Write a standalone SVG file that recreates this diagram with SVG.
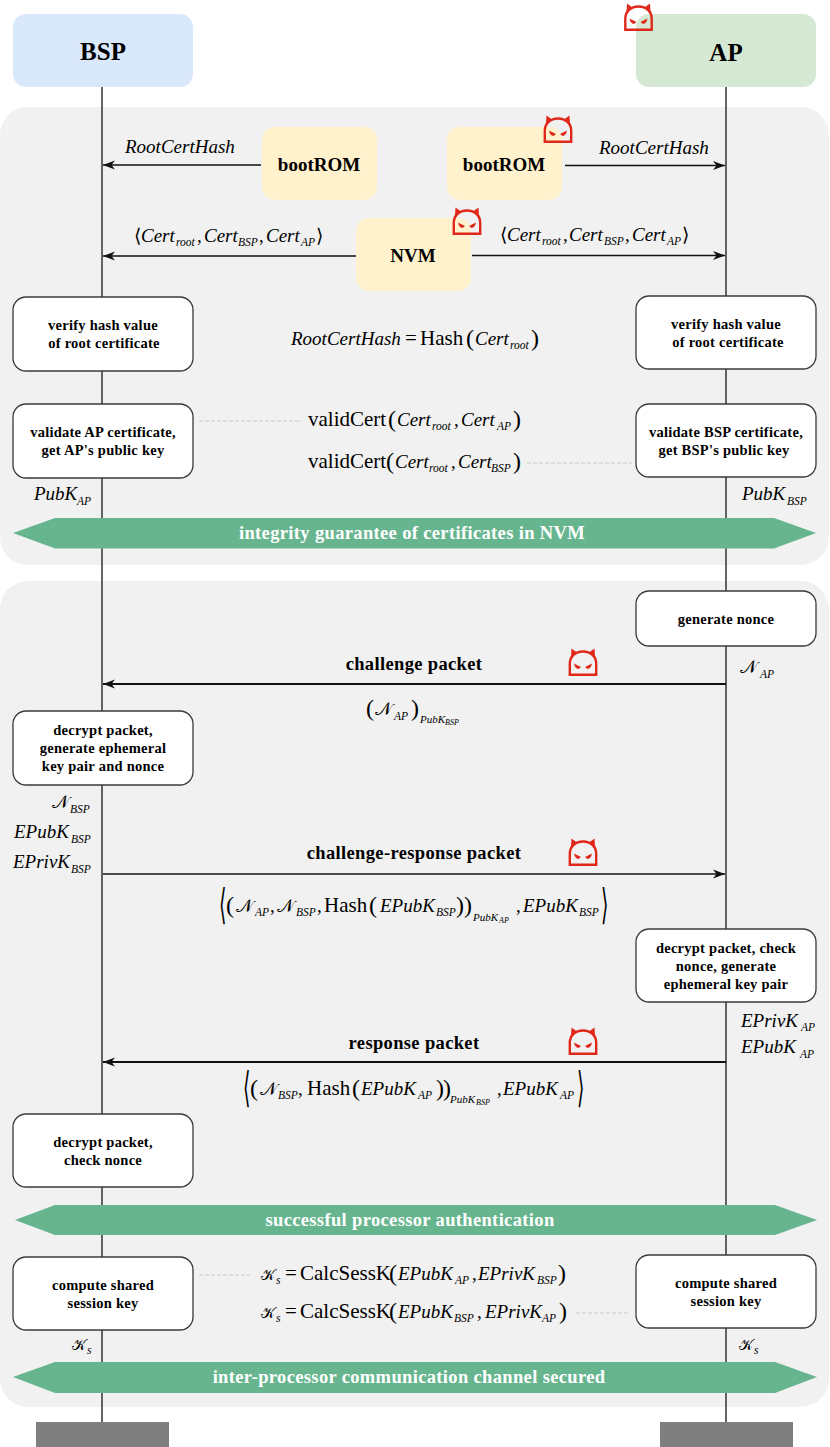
<svg xmlns="http://www.w3.org/2000/svg" width="830" height="1447" viewBox="0 0 830 1447">
<style>
text{font-family:"Liberation Serif","Times New Roman",serif;fill:#000}
.h{font-size:25px;font-weight:bold;text-anchor:middle}
.n{font-size:19px;font-weight:bold;text-anchor:middle}
.b{font-size:14.500px;font-weight:bold;text-anchor:middle;letter-spacing:.25px}
.l{font-size:18.500px;font-weight:bold;text-anchor:middle;letter-spacing:.35px}
.w{font-size:18.500px;font-weight:bold;text-anchor:middle;fill:#fff;letter-spacing:.35px}
.m{font-size:19px;font-style:italic}
.r{font-size:21px;font-style:normal}
.s{font-size:11.500px;font-style:italic}
.u{font-size:11px;font-style:italic}
.t{font-size:8px;font-style:italic}
.p{font-size:24px;font-weight:normal;font-style:normal}
.y{font-size:19px;font-style:normal;font-family:"DejaVu Sans",sans-serif}
.k{font-size:19px;font-style:normal}
.c{font-family:"DejaVu Sans","Liberation Serif",serif;font-size:18px;font-style:normal}
.d{font-family:"DejaVu Sans","Liberation Serif",serif;font-size:14.500px;font-style:normal}
.panel{fill:#f1f1f1}
.box{fill:#fff;stroke:#3a3a3a;stroke-width:1.3}
.mem{fill:#fff2cc}
.ban{fill:#67b58f}
.end{fill:#7f7f7f}
.life{stroke:#333;stroke-width:1.5;fill:none}
.arr{stroke:#111;stroke-width:1.7;fill:none;marker-end:url(#ah)}
.arr2{stroke:#111;stroke-width:2;fill:none;marker-end:url(#ah)}
.dash{stroke:#c8c8c8;stroke-width:1;stroke-dasharray:4 2;fill:none}
</style>
<defs>
<marker id="ah" markerUnits="userSpaceOnUse" markerWidth="14" markerHeight="12" refX="12" refY="6" orient="auto"><path d="M0 1.500L12 6L0 10.500L3.500 6Z" fill="#111"/></marker>
<symbol id="devil" viewBox="0 0 30 28" width="30" height="28" overflow="visible">
<path d="M1.800 26.800V16C1.800 8 7.500 3.500 15 3.500S28.200 8 28.200 16V26.800Z" fill="none" stroke="#e0281a" stroke-width="2.400"/>
<path d="M3 9L3.500 .5L9 4.500ZM27 9L26.500 .5L21 4.500Z" fill="#e0281a"/>
<path d="M6 15.500L13 19L10.500 21Q7 20.500 6 15.500ZM24 15.500L17 19L19.500 21Q23 20.500 24 15.500Z" fill="#e0281a"/>
</symbol>
</defs>

<g id="panels">
<rect class="panel" x="0" y="107" width="829" height="458" rx="28"/>
<rect class="panel" x="0" y="581" width="829" height="826" rx="28"/>
</g>

<g id="connectors">
<path class="life" d="M102 87V1422M726 87V1422"/>
<path class="arr" d="M261 165H103"/>
<path class="arr" d="M565 165.500H725"/>
<path class="arr" d="M356 256H103"/>
<path class="arr" d="M472 255.500H725"/>
<path class="arr2" d="M726 684H103"/>
<path class="arr" d="M103 874H725"/>
<path class="arr2" d="M726 1062H103"/>
<path class="dash" d="M199 421H302M527 463H632M199 1275H250M576 1313H630"/>
</g>

<g id="bsp"><rect x="13" y="14" width="180" height="73" rx="13" fill="#dae8fc"/><text class="h" x="103" y="60">BSP</text></g>
<g id="ap"><rect x="636" y="14" width="180" height="73" rx="13" fill="#d5e8d4"/><text class="h" x="726" y="61">AP</text></g>

<g id="bootrom-left"><rect class="mem" x="262" y="127" width="115" height="73" rx="13"/><text class="n" x="319" y="171">bootROM</text></g>
<g id="bootrom-right"><rect class="mem" x="447" y="127" width="115" height="73" rx="13"/><text class="n" x="504" y="171">bootROM</text></g>
<g id="nvm"><rect class="mem" x="356" y="218" width="115" height="73" rx="13"/><text class="n" x="413" y="262">NVM</text></g>

<g id="verify-left"><rect class="box" x="13" y="297" width="180" height="74" rx="13"/><text class="b" x="103" y="330">verify hash value</text><text class="b" x="104" y="348">of root certificate</text></g>
<g id="verify-right"><rect class="box" x="636" y="296" width="180" height="73" rx="13"/><text class="b" x="726" y="329">verify hash value</text><text class="b" x="728" y="347">of root certificate</text></g>
<g id="validate-left"><rect class="box" x="13" y="404" width="180" height="74" rx="13"/><text class="b" x="103" y="437">validate AP certificate,</text><text class="b" x="103" y="455">get AP's public key</text></g>
<g id="validate-right"><rect class="box" x="636" y="404" width="180" height="73" rx="13"/><text class="b" x="726" y="437">validate BSP certificate,</text><text class="b" x="724" y="455">get BSP's public key</text></g>

<g id="banner-integrity"><path class="ban" d="M13 533L55 518H774L816 533L774 548.500H55Z"/><text class="w" x="412" y="539">integrity guarantee of certificates in NVM</text></g>

<g id="nonce"><rect class="box" x="636" y="591" width="180" height="55" rx="13"/><text class="b" x="726" y="624">generate nonce</text></g>
<g id="decrypt-generate"><rect class="box" x="13" y="711" width="180" height="74" rx="13"/><text class="b" x="103" y="735">decrypt packet,</text><text class="b" x="103" y="753">generate ephemeral</text><text class="b" x="103" y="771">key pair and nonce</text></g>
<g id="decrypt-check"><rect class="box" x="636" y="929" width="180" height="73" rx="13"/><text class="b" x="726" y="953">decrypt packet, check</text><text class="b" x="726" y="971">nonce, generate</text><text class="b" x="726" y="989">ephemeral key pair</text></g>
<g id="decrypt-nonce"><rect class="box" x="13" y="1114" width="180" height="73" rx="13"/><text class="b" x="103" y="1147">decrypt packet,</text><text class="b" x="103" y="1165">check nonce</text></g>
<g id="banner-auth"><path class="ban" d="M15 1220L55 1205H775L817 1220L775 1235H55Z"/><text class="w" x="410" y="1226">successful processor authentication</text></g>
<g id="shared-left"><rect class="box" x="13" y="1257" width="180" height="73" rx="13"/><text class="b" x="103" y="1290">compute shared</text><text class="b" x="103" y="1308">session key</text></g>
<g id="shared-right"><rect class="box" x="636" y="1255" width="180" height="73" rx="13"/><text class="b" x="726" y="1288">compute shared</text><text class="b" x="726" y="1306">session key</text></g>
<g id="banner-secured"><path class="ban" d="M13 1377L55 1362H775L817 1377L775 1393H55Z"/><text class="w" x="409" y="1383">inter-processor communication channel secured</text></g>
<g id="end-bsp"><rect class="end" x="36" y="1422" width="133" height="25"/></g>
<g id="end-ap"><rect class="end" x="660" y="1422" width="133" height="25"/></g>

<g id="labels">
<text class="m" x="125" y="153">RootCertHash</text>
<text class="m" x="599" y="154">RootCertHash</text>
<text class="m"><tspan class="y" x="134" y="242">⟨</tspan><tspan x="141" y="242">Cert</tspan><tspan class="s" x="176" y="246">root</tspan><tspan class="k" x="197" y="242">,</tspan><tspan x="204" y="242">Cert</tspan><tspan class="s" x="238" y="246">BSP</tspan><tspan class="k" x="259" y="242">,</tspan><tspan x="266" y="242">Cert</tspan><tspan class="s" x="301" y="246">AP</tspan><tspan class="y" x="316" y="242">⟩</tspan></text>
<text class="m"><tspan class="y" x="500" y="241">⟨</tspan><tspan x="507" y="241">Cert</tspan><tspan class="s" x="542" y="245">root</tspan><tspan class="k" x="563" y="241">,</tspan><tspan x="569" y="241">Cert</tspan><tspan class="s" x="604" y="245">BSP</tspan><tspan class="k" x="625" y="241">,</tspan><tspan x="632" y="241">Cert</tspan><tspan class="s" x="667" y="245">AP</tspan><tspan class="y" x="682" y="241">⟩</tspan></text>
<text class="m"><tspan x="291" y="345">RootCertHash</tspan><tspan class="r" x="405" y="345">=</tspan><tspan class="r" x="420" y="345">Hash</tspan><tspan class="p" x="466" y="346">(</tspan><tspan x="475" y="345">Cert</tspan><tspan class="s" x="510" y="349">root</tspan><tspan class="p" x="531" y="346">)</tspan></text>
<text class="m"><tspan class="r" x="308" y="426">validCert</tspan><tspan class="p" x="388" y="427">(</tspan><tspan x="397" y="426">Cert</tspan><tspan class="s" x="432" y="430">root</tspan><tspan class="k" x="454" y="426">,</tspan><tspan x="461" y="426">Cert</tspan><tspan class="s" x="497" y="430">AP</tspan><tspan class="p" x="513" y="427">)</tspan></text>
<text class="m"><tspan class="r" x="308" y="468">validCert</tspan><tspan class="p" x="386" y="469">(</tspan><tspan x="395" y="468">Cert</tspan><tspan class="s" x="429" y="472">root</tspan><tspan class="k" x="451" y="468">,</tspan><tspan x="458" y="468">Cert</tspan><tspan class="s" x="491" y="472">BSP</tspan><tspan class="p" x="513" y="469">)</tspan></text>
<text class="m"><tspan x="34" y="500">PubK</tspan><tspan class="s" x="77" y="505">AP</tspan></text>
<text class="m"><tspan x="742" y="500">PubK</tspan><tspan class="s" x="787" y="505">BSP</tspan></text>

<text class="l" x="414" y="670">challenge packet</text>
<text class="m"><tspan class="c" x="740" y="673">𝒩</tspan><tspan class="s" x="760" y="678">AP</tspan></text>
<text class="m"><tspan class="p" x="366" y="716">(</tspan><tspan class="c" x="375" y="715">𝒩</tspan><tspan class="s" x="394" y="720">AP</tspan><tspan class="p" x="411" y="716">)</tspan><tspan class="u" x="420" y="723">PubK</tspan><tspan class="t" x="445" y="725">BSP</tspan></text>
<text class="m"><tspan class="c" x="52" y="808">𝒩</tspan><tspan class="s" x="70" y="813">BSP</tspan></text>
<text class="m"><tspan x="14" y="838">EPubK</tspan><tspan class="s" x="71" y="843">BSP</tspan></text>
<text class="m"><tspan x="13" y="868">EPrivK</tspan><tspan class="s" x="71" y="873">BSP</tspan></text>
<text class="l" x="414" y="859">challenge-response packet</text>
<text class="y" transform="translate(219 919) scale(1 2.200)">⟨</text>
<text class="m"><tspan class="p" x="226" y="913">(</tspan><tspan class="c" x="236" y="912">𝒩</tspan><tspan class="s" x="255" y="916">AP</tspan><tspan class="k" x="270" y="912">,</tspan><tspan class="c" x="277" y="912">𝒩</tspan><tspan class="s" x="296" y="916">BSP</tspan><tspan class="k" x="317" y="912">,</tspan><tspan class="r" x="324" y="912">Hash</tspan><tspan class="p" x="369" y="913">(</tspan><tspan x="380" y="912">EPubK</tspan><tspan class="s" x="436" y="916">BSP</tspan><tspan class="p" x="456" y="913">)</tspan><tspan class="p" x="464" y="913">)</tspan><tspan class="u" x="473" y="921">PubK</tspan><tspan class="t" x="499" y="923">AP</tspan><tspan class="k" x="516" y="912">,</tspan><tspan x="523" y="912">EPubK</tspan><tspan class="s" x="579" y="916">BSP</tspan></text>
<text class="y" transform="translate(601 919) scale(1 2.200)">⟩</text>
<text class="l" x="414" y="1049">response packet</text>
<text class="m"><tspan x="741" y="1027">EPrivK</tspan><tspan class="s" x="801" y="1031">AP</tspan></text>
<text class="m"><tspan x="741" y="1053">EPubK</tspan><tspan class="s" x="800" y="1058">AP</tspan></text>
<text class="y" transform="translate(243 1102) scale(1 2.200)">⟨</text>
<text class="m"><tspan class="p" x="250" y="1096">(</tspan><tspan class="c" x="260" y="1095">𝒩</tspan><tspan class="s" x="278" y="1099">BSP</tspan><tspan class="k" x="298" y="1095">,</tspan><tspan class="r" x="307" y="1095">Hash</tspan><tspan class="p" x="352" y="1096">(</tspan><tspan x="361" y="1095">EPubK</tspan><tspan class="s" x="418" y="1099">AP</tspan><tspan class="p" x="436" y="1096">)</tspan><tspan class="p" x="443" y="1096">)</tspan><tspan class="u" x="450" y="1103">PubK</tspan><tspan class="t" x="476" y="1105">BSP</tspan><tspan class="k" x="497" y="1095">,</tspan><tspan x="503" y="1095">EPubK</tspan><tspan class="s" x="560" y="1099">AP</tspan></text>
<text class="y" transform="translate(577 1102) scale(1 2.200)">⟩</text>

<text class="m"><tspan class="d" x="261" y="1280">𝒦</tspan><tspan class="s" x="276" y="1284">s</tspan><tspan class="r" x="285" y="1280">=</tspan><tspan class="r" x="300" y="1280">CalcSessK</tspan><tspan class="p" x="389" y="1281">(</tspan><tspan x="398" y="1280">EPubK</tspan><tspan class="s" x="455" y="1284">AP</tspan><tspan class="k" x="472" y="1280">,</tspan><tspan x="478" y="1280">EPrivK</tspan><tspan class="s" x="537" y="1284">BSP</tspan><tspan class="p" x="558" y="1281">)</tspan></text>
<text class="m"><tspan class="d" x="261" y="1318">𝒦</tspan><tspan class="s" x="276" y="1322">s</tspan><tspan class="r" x="285" y="1318">=</tspan><tspan class="r" x="300" y="1318">CalcSessK</tspan><tspan class="p" x="389" y="1319">(</tspan><tspan x="398" y="1318">EPubK</tspan><tspan class="s" x="454" y="1322">BSP</tspan><tspan class="k" x="477" y="1318">,</tspan><tspan x="485" y="1318">EPrivK</tspan><tspan class="s" x="542" y="1322">AP</tspan><tspan class="p" x="559" y="1319">)</tspan></text>
<text class="m"><tspan class="d" x="72" y="1350">𝒦</tspan><tspan class="s" x="87" y="1354">s</tspan></text>
<text class="m"><tspan class="d" x="739" y="1350">𝒦</tspan><tspan class="s" x="754" y="1354">s</tspan></text>
</g>

<g id="attackers">
<use href="#devil" x="623.500" y="3"/>
<use href="#devil" x="543" y="115"/>
<use href="#devil" x="452" y="207"/>
<use href="#devil" x="568" y="648"/>
<use href="#devil" x="568" y="838"/>
<use href="#devil" x="568" y="1027"/>
</g>
</svg>
